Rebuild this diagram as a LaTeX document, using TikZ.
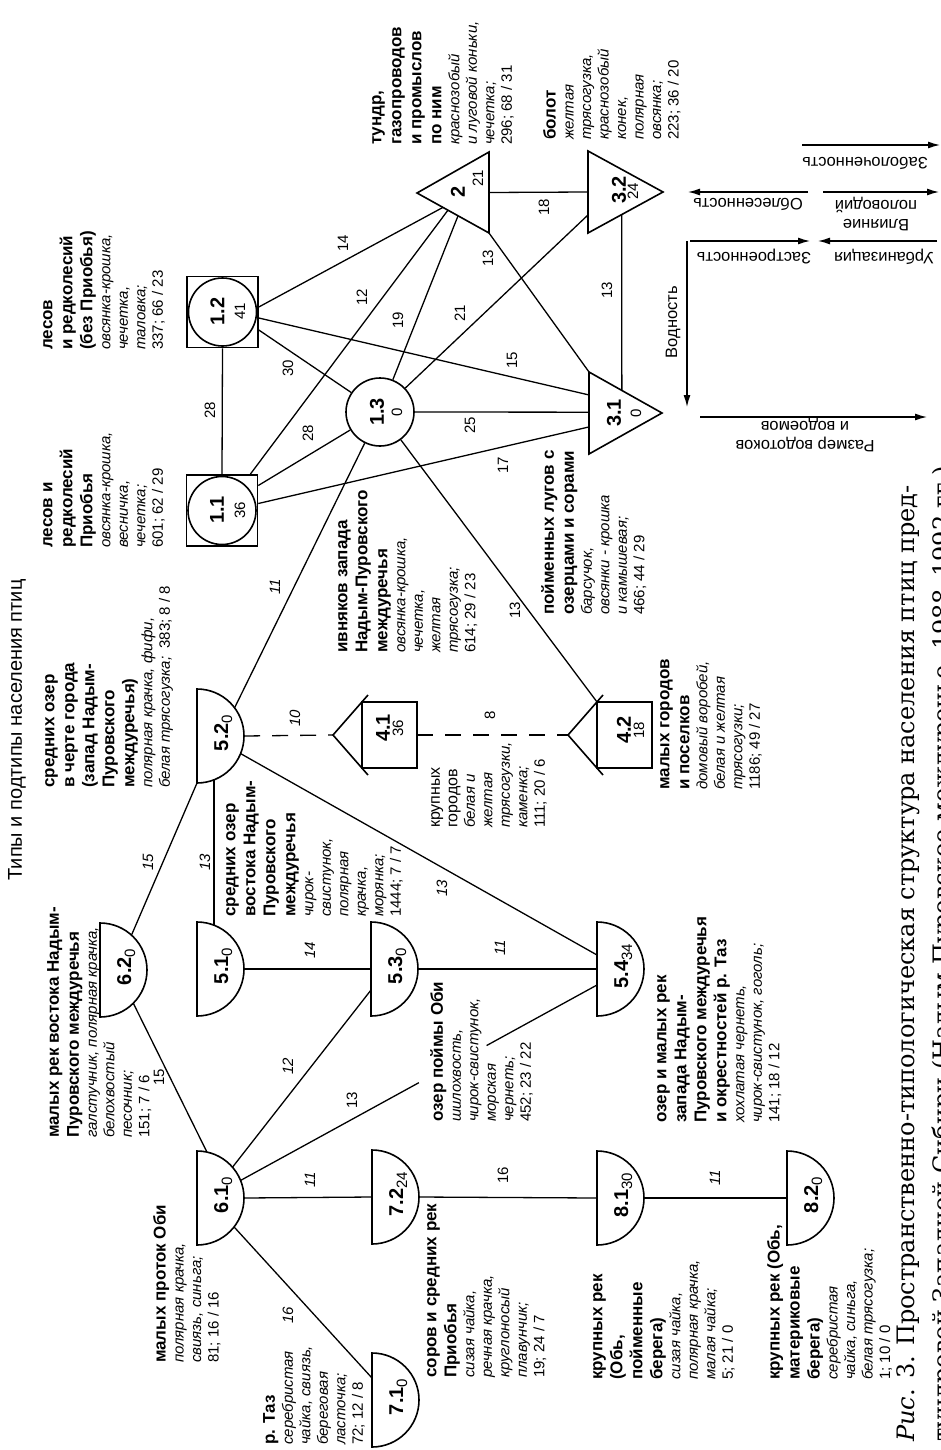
\documentclass[tikz,border=0pt]{standalone}
\usepackage{fontspec}
\setmainfont{Liberation Sans}
\newfontfamily\capfont{DejaVu Serif}
\usetikzlibrary{calc,arrows.meta}
\newcommand{\hb}[1]{{\fontsize{17}{17}\selectfont\bfseries #1}}
\newcommand{\spx}[1]{{\itshape #1}}
\newcommand{\semicirc}[5]{%
  \node[hub] (#1) at (#2,#3) {};
  \draw[shp] (#2,#3-47) arc[start angle=-90,end angle=90,radius=47] -- cycle;
  \node[lbl,anchor=base] (#1id) at (#2+31,#3-3) {{\fontsize{20}{20}\selectfont\bfseries #4}\lower4pt\hbox{\fontsize{15}{15}\selectfont #5}};}
\begin{document}
\begin{tikzpicture}[x=1pt,y=-1pt,
  lbl/.style={rotate=90,inner sep=0pt},
  blk/.style={lbl,anchor=north west,align=left,font=\fontsize{15}{17.5}\selectfont},
  el/.style={lbl,font=\fontsize{15}{15}\selectfont},
  eli/.style={lbl,font=\fontsize{15}{15}\selectfont\itshape},
  idb/.style={lbl,font=\fontsize{20}{20}\selectfont\bfseries},
  idn/.style={lbl,font=\fontsize{15}{15}\selectfont},
  con/.style={line width=1.3pt},
  dsh/.style={con,dash pattern=on 16pt off 12pt},
  shp/.style={line width=1.6pt},
  hub/.style={circle,minimum size=94pt,inner sep=0pt},
  axarr/.style={line width=1.3pt,-{Latex[length=12pt,width=7pt]}},
  axl/.style={rotate=180,inner sep=0pt,font=\fontsize{16.5}{19}\selectfont,align=center}]
\fill[white] (0,0) rectangle (941,1450);
\useasboundingbox (0,0) rectangle (941,1450);

% ---------- title
\node[lbl,font=\fontsize{20}{20}\selectfont] (title) at (17,730) {Типы и подтипы населения птиц};

% ---------- group 1: boxes, circle
\node[draw,shp,minimum size=71pt,inner sep=0pt] (n12) at (222.5,312) {};
\draw[shp] (n12.center) circle[radius=34];
\node[draw,shp,minimum size=71pt,inner sep=0pt] (n11) at (222,510.5) {};
\draw[shp] (n11.center) circle[radius=34];
\node[draw,shp,circle,minimum size=68pt,inner sep=0pt] (n13) at (380,412) {};
\node[idb] (n12a) at (217.5,311.5) {1.2};
\node[idn] (n12b) at (240,311) {41};
\node[idb] (n11a) at (217,510) {1.1};
\node[idn] (n11b) at (240,510) {36};
\node[idb] (n13a) at (377,412) {1.3};
\node[idn] (n13b) at (397,412) {0};

% ---------- triangles
\coordinate (t2a) at (417,193); \coordinate (t2t) at (489,152); \coordinate (t2b) at (489,233);
\coordinate (t32t) at (588,151); \coordinate (t32b) at (588,233); \coordinate (t32a) at (663,192);
\coordinate (t31t) at (589,372); \coordinate (t31b) at (589,454); \coordinate (t31a) at (662,413);
\draw[shp,line join=miter] (t2a) -- (t2t) -- (t2b) -- cycle;
\draw[shp,line join=miter] (t32t) -- (t32a) -- (t32b) -- cycle;
\draw[shp,line join=miter] (t31t) -- (t31a) -- (t31b) -- cycle;
\node[idb] (n2) at (458,192) {2};
\node[idn] (n2b) at (478,178) {21};
\node[idb] (n32) at (619,190) {3.2};
\node[idn] (n32b) at (633,191) {24};
\node[idb] (n31) at (614,413) {3.1};
\node[idn] (n31b) at (636,413) {0};

% ---------- houses
\coordinate (h41a) at (333,735); \coordinate (h41r) at (417,735);
\coordinate (h42a) at (568,735); \coordinate (h42c) at (597,702);
\draw[shp] (368,695) -- (h41a) -- (368,775);
\draw[shp] (362,702) rectangle (417,768);
\draw[shp] (603,695) -- (h42a) -- (603,775);
\draw[shp] (597,702) rectangle (652,768);
\node[idb] (n41) at (383,728) {4.1};
\node[idn] (n41b) at (398,728) {36};
\node[idb] (n42) at (624,730) {4.2};
\node[idn] (n42b) at (639,730) {18};

% ---------- semicircles
\semicirc{n52}{197}{736}{5.2}{0}
\semicirc{n62}{100}{970}{6.2}{0}
\semicirc{n51}{197}{969}{5.1}{0}
\semicirc{n53}{371}{969}{5.3}{0}
\semicirc{n54}{597}{969}{5.4}{34}
\semicirc{n61}{197}{1198}{6.1}{0}
\semicirc{n71}{372}{1400}{7.1}{0}
\semicirc{n72}{372}{1197}{7.2}{24}
\semicirc{n81}{597}{1198}{8.1}{30}
\semicirc{n82}{787}{1198}{8.2}{0}

% ---------- connectors
\draw[con] (n12.south) -- (n11.north);
\draw[con] ($(n12.east)+(0,-5)$) -- ($(t2a)!0.36!(t2b)$);
\draw[con] ($(n11.north east)+(-8,0)$) -- ($(t2a)!0.43!(t2b)$);
\draw[con] ($(n12.east)+(0,6)$) -- ($(t31t)!0.28!(t31b)$);
\draw[con] ($(n12.east)+(0,18)$) -- (n13);
\draw[con] ($(n11.east)+(0,-25)$) -- (n13);
\draw[con] ($(n11.east)+(0,-7)$) -- ($(t31t)!0.67!(t31b)$);
\draw[con] (n13) -- ($(t2a)!0.57!(t2b)$);
\draw[con] (n13) -- ($(t32t)!0.78!(t32b)$);
\draw[con] (n13.east) -- ($(t31t)!0.49!(t31b)$);
\draw[con] (t2b) -- (t31t);
\draw[con] ($(t2t)!0.5!(t2b)$) -- ($(t32t)!0.5!(t32b)$);
\draw[con] ($(t32b)!0.45!(t32a)$) -- ($(t31t)!0.45!(t31a)$);
\draw[con] (n13) -- (h42c);
\draw[con] (n52.37) -- (n13);
\draw[dsh] (n52.east) -- (h41a);
\draw[dsh] (h41r) -- (h42a);
\draw[con] (n52.-69) -- (n51.69);
\draw[con] (n52.-22) -- ($(n54)+(0,-14)$);
\draw[con] (n62.48) -- ($(n52)+(0,47)$);
\draw[con] (n62.-45) -- (n61.78);
\draw[con] (n51.east) -- (n53.center);
\draw[con] (n53.east) -- (n54.center);
\draw[con] (n61.41) -- ($(n53)+(0,21)$);
\coordinate (p54) at ($(n54)+(0,16)$);
\draw[con] (n61.22) -- ($(n61.22)!0.5!(p54)$);
\draw[con] ($(n61.22)!0.69!(p54)$) -- (p54);
\draw[con] (n61.east) -- (n72.center);
\draw[con] (n61.-38) -- ($(n71)+(0,-22)$);
\draw[con] (n72.east) -- (n81.center);
\draw[con] (n81.east) -- (n82.center);

% ---------- edge labels
\node[el] (e1) at (210,410) {28};
\node[el] (e2) at (343,243) {14};
\node[el] (e3) at (362,297) {12};
\node[el] (e4) at (512,360) {15};
\node[el] (e5) at (288,368) {30};
\node[el] (e6) at (308,433) {28};
\node[el] (e7) at (503,465) {17};
\node[el] (e8) at (398,320) {19};
\node[el] (e9) at (460,313) {21};
\node[el] (e10) at (470,425) {25};
\node[el] (e11) at (488,258) {13};
\node[el] (e12) at (544,207) {18};
\node[el] (e13) at (607,290) {13};
\node[el] (e14) at (515,610) {13};
\node[eli] (e15) at (275,587) {11};
\node[eli] (e16) at (295,718) {10};
\node[el] (e17) at (490,715) {8};
\node[eli] (e18) at (205,862) {13};
\node[eli] (e19) at (442,888) {13};
\node[eli] (e20) at (148,862) {15};
\node[el] (e21) at (159,1077) {15};
\node[eli] (e22) at (310,950) {14};
\node[eli] (e23) at (500,948) {11};
\node[eli] (e24) at (288,1066) {12};
\node[el] (e25) at (352,1100) {13};
\node[eli] (e26) at (310,1180) {11};
\node[eli] (e27) at (288,1315) {16};
\node[el] (e28) at (503,1175) {16};
\node[eli] (e29) at (715,1178) {11};

% ---------- text blocks
\node[blk] (L12) at (43,350) {\hb{лесов}\\[2.5pt]\hb{и редколесий}\\[2.5pt]\hb{(без Приобья)}\\[0.5pt]\spx{овсянка-крошка,}\\\spx{чечетка,}\\\spx{таловка;}\\337; 66 / 23};
\node[blk] (L11) at (43,548) {\hb{лесов и}\\[2.5pt]\hb{редколесий}\\[2.5pt]\hb{Приобья}\\[0.5pt]\spx{овсянка-крошка,}\\\spx{весничка,}\\\spx{чечетка;}\\601; 62 / 29};
\node[blk] (L52) at (45,788) {\hb{средних озер}\\[2.5pt]\hb{в черте города}\\[2.5pt]\hb{(запад Надым-}\\[2.5pt]\hb{Пуровского}\\[2.5pt]\hb{междуречья)}\\[0.5pt]\spx{полярная крачка, фифи,}\\\spx{белая трясогузка;}\ \ 383; 8 / 8};
\node[blk] (L62) at (47,1138) {\hb{малых рек востока Надым-}\\[2.5pt]\hb{Пуровского междуречья}\\[0.5pt]\spx{галстучник, полярная крачка,}\\\spx{белохвостый}\\\spx{песочник;}\\151;\ 7 / 6};
\node[blk] (L51) at (226,917) {\hb{средних озер}\\[2.5pt]\hb{востока Надым-}\\[2.5pt]\hb{Пуровского}\\[2.5pt]\hb{междуречья}\\[0.5pt]\spx{чирок-}\\\spx{свистунок,}\\\spx{полярная}\\\spx{крачка,}\\\spx{морянка;}\\1444; 7 / 7};
\node[blk] (L41) at (431,828) {{\fontsize{16}{16}\selectfont крупных}\\{\fontsize{16}{16}\selectfont городов}\\\spx{белая и}\\\spx{желтая}\\\spx{трясогузки,}\\\spx{каменка;}\\111; 20 / 6};
\node[blk] (L42) at (660,790) {\hb{малых городов}\\[2.5pt]\hb{и поселков}\\[0.5pt]\spx{домовый воробей,}\\\spx{белая и желтая}\\\spx{трясогузки;}\\1186; 49 / 27};
\node[blk] (L13) at (338,653) {\hb{ивняков запада}\\[2.5pt]\hb{Надым-Пуровского}\\[2.5pt]\hb{междуречья}\\[0.5pt]\spx{овсянка-крошка,}\\\spx{чечетка,}\\\spx{желтая}\\\spx{трясогузка;}\\614;\ 29 / 23};
\node[blk] (L31) at (541,615) {\hb{пойменных лугов с}\\[2.5pt]\hb{озерцами и сорами}\\[0.5pt]\spx{барсучок,}\\\spx{овсянки - крошка}\\\spx{и камышевая;}\\466; 44 / 29};
\node[blk] (L2) at (372,145) {\hb{тундр,}\\[2.5pt]\hb{газопроводов}\\[2.5pt]\hb{и промыслов}\\[2.5pt]\hb{по ним}\\[0.5pt]\spx{краснозобый}\\\spx{и луговой коньки,}\\\spx{чечетка;}\\296; 68 / 31};
\node[blk] (L32) at (543,140) {\hb{болот}\\[0.5pt]\spx{желтая}\\\spx{трясогузка,}\\\spx{краснозобый}\\\spx{конек,}\\\spx{полярная}\\\spx{овсянка;}\\223; 36 / 20};
\node[blk] (L61) at (153,1363) {\hb{малых проток Оби}\\[0.5pt]\spx{полярная крачка,}\\\spx{свиязь, синьга;}\\81; 16 / 16};
\node[blk] (L71) at (263,1445) {\hb{р. Таз}\\[0.5pt]\spx{серебристая}\\\spx{чайка, свиязь,}\\\spx{береговая}\\\spx{ласточка;}\\72; 12 / 8};
\node[blk] (L72) at (427,1378) {\hb{соров и средних рек}\\[2.5pt]\hb{Приобья}\\[0.5pt]\spx{сизая чайка,}\\\spx{речная крачка,}\\\spx{круглоносый}\\\spx{плавунчик;}\\19; 24 / 7};
\node[blk] (L81) at (593,1380) {\hb{крупных рек}\\[2.5pt]\hb{(Обь,}\\[2.5pt]\hb{пойменные}\\[2.5pt]\hb{берега)}\\[0.5pt]\spx{сизая чайка,}\\\spx{полярная крачка,}\\\spx{малая чайка;}\\5; 21 / 0};
\node[blk] (L82) at (767,1380) {\hb{крупных рек (Обь,}\\[2.5pt]\hb{материковые}\\[2.5pt]\hb{берега)}\\[0.5pt]\spx{серебристая}\\\spx{чайка, синьга,}\\\spx{белая трясогузка;}\\1; 10 / 0};
\node[blk] (L53) at (430,1122) {\hb{озер поймы Оби}\\[0.5pt]\spx{шилохвость,}\\\spx{чирок-свистунок,}\\\spx{морская}\\\spx{чернеть;}\\452; 23 / 22};
\node[blk] (L54) at (657,1123) {\hb{озер и малых рек}\\[2.5pt]\hb{запада Надым-}\\[2.5pt]\hb{Пуровского междуречья}\\[2.5pt]\hb{и окрестностей р. Таз}\\[0.5pt]\spx{хохлатая чернеть,}\\\spx{чирок-свистунок, гоголь;}\\141; 18 / 12};

% ---------- factor arrows
\coordinate (a1s) at (802,145); \coordinate (a1e) at (940,145);
\coordinate (a2s) at (808,192); \coordinate (a2e) at (688,192);
\coordinate (a3s) at (823,192); \coordinate (a3e) at (939,192);
\coordinate (a4s) at (690,241); \coordinate (a4e) at (810,241);
\coordinate (a5s) at (937,241); \coordinate (a5e) at (818,241);
\coordinate (a6s) at (687,241); \coordinate (a6e) at (687,407);
\coordinate (a7s) at (700,417); \coordinate (a7e) at (927,417);
\draw[axarr] (a1s) -- (a1e);
\draw[axarr] (a2s) -- (a2e);
\draw[axarr] (a3s) -- (a3e);
\draw[axarr] (a4s) -- (a4e);
\draw[axarr] (a5s) -- (a5e);
\draw[axarr] (a6s) -- (a6e);
\draw[axarr] (a7s) -- (a7e);
\node[axl] (f1) at (865,163) {Заболоченность};
\node[axl] (f2) at (748,204) {Облесенность};
\node[axl] (f3) at (876,214) {Влияние\\половодий};
\node[axl] (f4) at (754,257) {Застроенность};
\node[axl] (f5) at (884,257) {Урбанизация};
\node[lbl,font=\fontsize{16.5}{16.5}\selectfont] (f6) at (673,322) {Водность};
\node[axl] (f7) at (805,435) {Размер водотоков\\и водоемов};

% ---------- caption (second line is cut by the page edge)
\node[lbl,anchor=base west,font=\capfont\fontsize{24}{24}\selectfont] (cap1) at (914,1442) {\textit{Рис}. 3. Пространственно-типологическая структура населения птиц пред-};
\node[lbl,anchor=base west,font=\capfont\fontsize{24}{24}\selectfont] (cap2) at (950,1442) {тундровой Западной Сибири (Надым-Пуровское междуречье, 1988–1992 гг.)};
\end{tikzpicture}
\end{document}
